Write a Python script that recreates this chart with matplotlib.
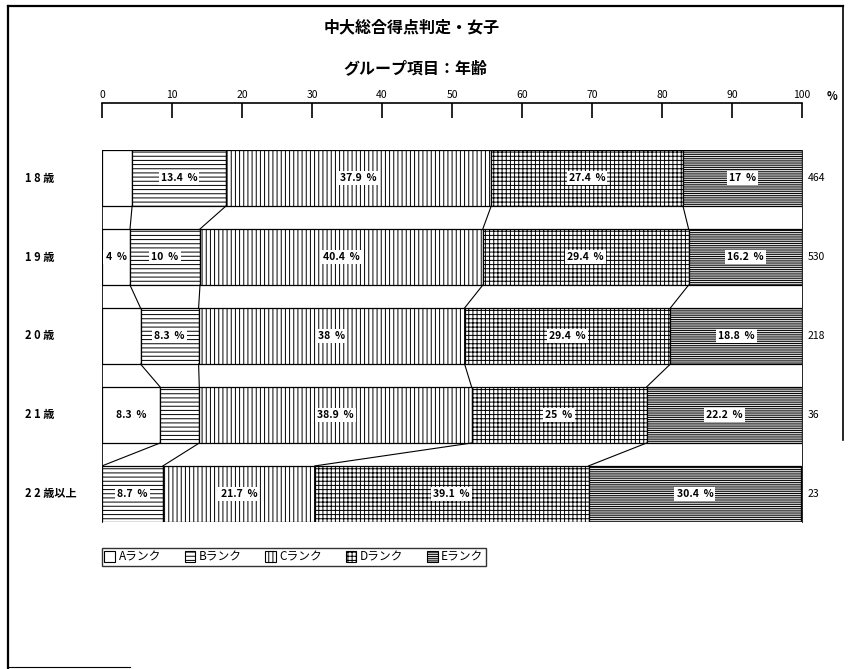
import numpy as np
import matplotlib
matplotlib.use('Agg')
from matplotlib import pyplot as plt
from matplotlib.patches import Patch
from matplotlib.lines import Line2D

plt.rcParams['font.family'] = ['Noto Sans CJK JP', 'DejaVu Sans']
plt.rcParams['hatch.linewidth'] = 0.7

title = '中大総合得点判定・女子'
subtitle = 'グループ項目：年齢'
groups = ['1 8 歳', '1 9 歳', '2 0 歳', '2 1 歳', '2 2 歳以上']
counts = [464, 530, 218, 36, 23]
ranks = ['Aランク', 'Bランク', 'Cランク', 'Dランク', 'Eランク']
rank_a = [4.3, 4.0, 5.5, 8.3, 0.0]
rank_b = [13.4, 10.0, 8.3, 5.6, 8.7]
rank_c = [37.9, 40.4, 38.0, 38.9, 21.7]
rank_d = [27.4, 29.4, 29.4, 25.0, 39.1]
rank_e = [17.0, 16.2, 18.8, 22.2, 30.4]
# which segments carry a percent label (A, B, C, D, E)
labelled = [[0, 1, 1, 1, 1],
            [1, 1, 1, 1, 1],
            [0, 1, 1, 1, 1],
            [1, 0, 1, 1, 1],
            [0, 1, 1, 1, 1]]
xticks = [0, 10, 20, 30, 40, 50, 60, 70, 80, 90, 100]

hatches = ['', '----', '||||', '++++', '---------']

W, H = 852, 669
fig = plt.figure(figsize=(W/100, H/100), dpi=100)

top_px, bot_px = 150, 522
ax = fig.add_axes([102/W, 1-bot_px/H, 700/W, (bot_px-top_px)/H])

vals = np.array([rank_a, rank_b, rank_c, rank_d, rank_e]).T
bh = 0.71
y = np.arange(len(groups))
left = np.zeros(len(groups))
for k in range(vals.shape[1]):
    ax.barh(y, vals[:, k], left=left, height=bh, color='white',
            edgecolor='black', hatch=hatches[k], linewidth=0.9)
    for i in range(len(groups)):
        if labelled[i][k]:
            ax.text(left[i] + vals[i, k]/2, y[i], f'{vals[i, k]:g}  %',
                    ha='center', va='center', fontsize=7.5, fontweight='bold',
                    bbox=dict(facecolor='white', edgecolor='none', pad=1.5))
    left = left + vals[:, k]

# connector lines between stacked boundaries of consecutive bars
cum = np.cumsum(vals, axis=1)
for i in range(len(groups)-1):
    for k in range(vals.shape[1]-1):
        ax.plot([cum[i, k], cum[i+1, k]], [y[i]+bh/2, y[i+1]-bh/2],
                color='black', lw=0.8)

ax.set_xlim(0, 100)
ax.set_ylim(len(groups)-1+bh/2, -bh/2)
ax.set_yticks([])
ax.spines['bottom'].set_visible(False)
ax.spines['left'].set_linewidth(0.6)
ax.spines['right'].set_linewidth(0.6)
ax.spines['left'].set_linestyle((0, (2, 1)))
ax.xaxis.tick_top()
ax.spines['top'].set_position(('outward', 34))
ax.spines['top'].set_linewidth(1.2)
ax.set_xticks(xticks)
ax.tick_params(axis='x', direction='in', length=11, width=1.2, pad=2,
               labelsize=7.5)

for i, g in enumerate(groups):
    ax.text(-0.11, y[i], g, transform=ax.get_yaxis_transform(), ha='left',
            va='center', fontsize=8, fontweight='bold')
    ax.text(100.8, y[i], str(counts[i]), ha='left', va='center',
            fontsize=7.5)

fig.text(832/W, 1-97/H, '%', ha='center', va='center', fontsize=8,
         fontweight='bold')
fig.text(412/W, 1-27/H, title, ha='center', va='center', fontsize=11.5,
         fontweight='bold')
fig.text(415/W, 1-68/H, subtitle, ha='center', va='center', fontsize=11.5,
         fontweight='bold')

handles = [Patch(facecolor='white', edgecolor='black', hatch=h, lw=0.8)
           for h in hatches]
fig.legend(handles, ranks, loc='upper left', ncol=5,
           bbox_to_anchor=(102/W, 1-548/H), bbox_transform=fig.transFigure,
           fontsize=8.5, frameon=True, fancybox=False, edgecolor='black',
           handlelength=0.9, handleheight=1.1, handletextpad=0.3,
           columnspacing=2.0, borderpad=0.2, borderaxespad=0)

# outer frame of the scanned page
frame = [([8, 8], [6, H], 1.6),
         ([8, 843], [6, 6], 1.6),
         ([843, 843], [6, 440], 1.2),
         ([8, 130], [667, 667], 0.8)]
for xs, ys, lw in frame:
    fig.add_artist(Line2D(np.array(xs)/W, 1-np.array(ys)/H, color='black',
                          lw=lw, transform=fig.transFigure))

fig.savefig('out.png', dpi=100)
